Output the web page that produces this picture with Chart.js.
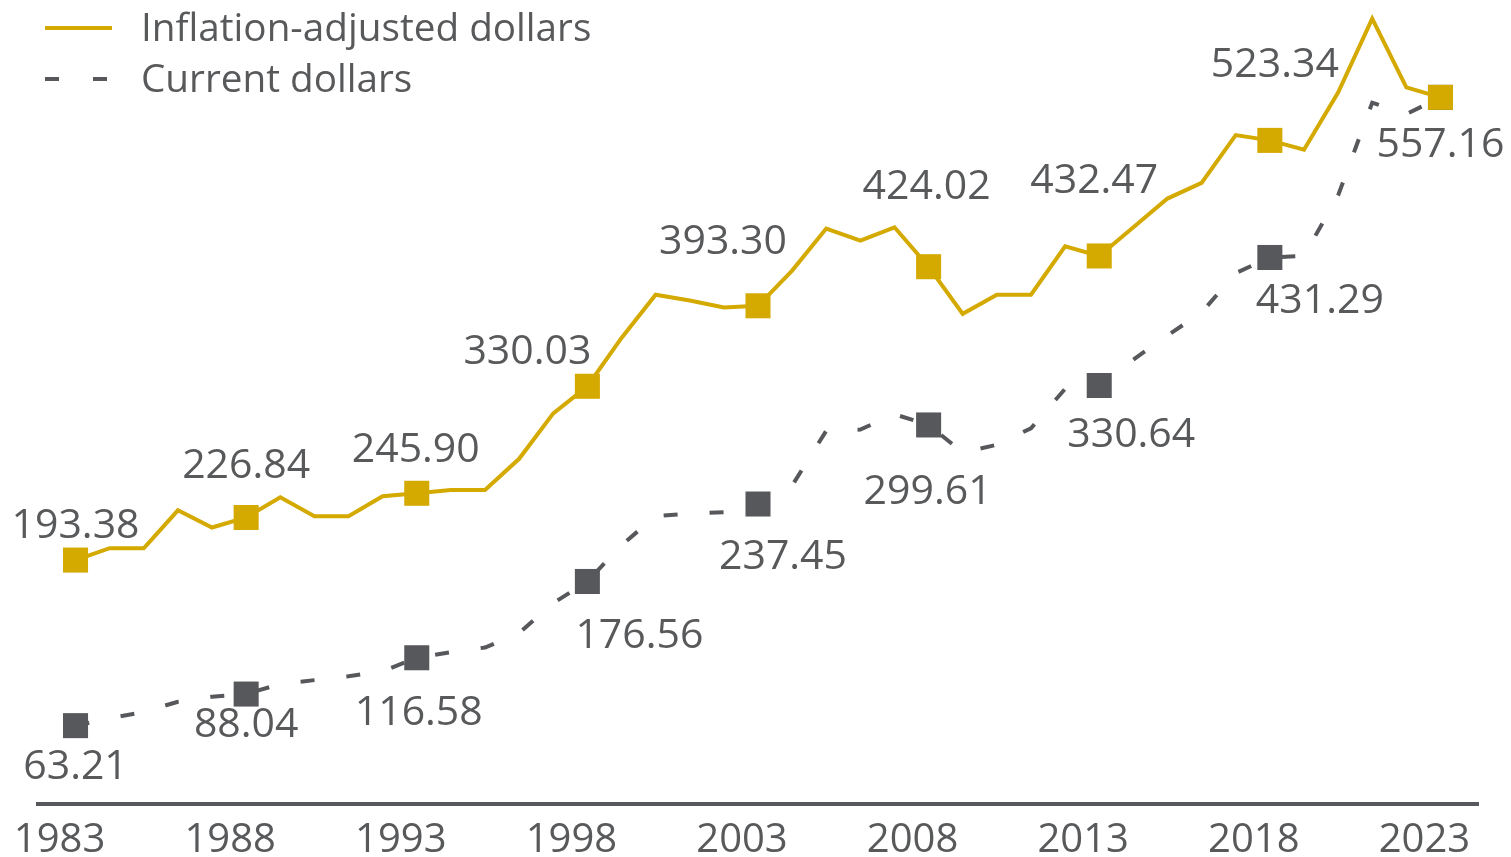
<!DOCTYPE html>
<html>
<head>
<meta charset="utf-8">
<script src="https://cdn.jsdelivr.net/npm/chart.js@4.4.1/dist/chart.umd.min.js"></script>
<style>
  html, body { margin: 0; padding: 0; background: #ffffff; }
  #wrap { width: 1511px; height: 857px; }
</style>
</head>
<body>
<div id="wrap"><canvas id="chart" width="1511" height="857"></canvas></div>
<script>
// ---- data ----
const years = [1983, 1984, 1985, 1986, 1987, 1988, 1989, 1990, 1991, 1992,
               1993, 1994, 1995, 1996, 1997, 1998, 1999, 2000, 2001, 2002,
               2003, 2004, 2005, 2006, 2007, 2008, 2009, 2010, 2011, 2012,
               2013, 2014, 2015, 2016, 2017, 2018, 2019, 2020, 2021, 2022, 2023];

const inflationAdjusted = [193.38, 202.7, 202.7, 232.5, 219, 226.84, 242.7, 227.8, 227.8, 243.5,
                           245.90, 248.5, 248.5, 273, 308.7, 330.03, 368, 402, 397.5, 392,
                           393.30, 421, 454, 444.6, 455, 424.02, 387, 402, 402, 440,
                           432.47, 455, 477.6, 490, 527.5, 523.34, 516, 561, 619, 565, 557.16];

const currentDollars = [63.21, 69, 74, 82, 86, 88.04, 96, 99, 102, 106,
                        116.58, 121, 124.6, 136, 159.5, 176.56, 205, 228, 230, 231,
                        237.45, 252, 295, 296, 308, 299.61, 278, 284, 297, 328,
                        330.64, 351, 370, 388, 419, 431.29, 432.5, 480, 553, 544, 557.16];

const tickYears = [1983, 1988, 1993, 1998, 2003, 2008, 2013, 2018, 2023];
const seriesNames = ['Inflation-adjusted dollars', 'Current dollars'];
const seriesValues = [inflationAdjusted, currentDollars];

// ---- styling ----
const GOLD = '#d4a900';
const GREY = '#57585b';
const TEXT = '#58595b';
const FONT = "'Open Sans', 'Noto Sans', sans-serif";
const LABEL_SIZE = 41;

// label offsets (px from marker centre) for the marked years, per dataset
const labelOffsets = [
  [[0, -37], [0, -54], [-1, -46], [-60, -37], [-35, -66], [-2, -82], [-5, -78], [5, -78], [0, 45]],
  [[0, 39], [0, 28], [2, 53], [52, 52], [25, 50], [-1, 64], [32, 47], [50, 41], null]
];

const markerRadius = years.map(y => tickYears.includes(y) ? 17.7 : 0);

// value labels next to the square markers
const valueLabels = {
  id: 'valueLabels',
  afterDatasetsDraw(chart) {
    const ctx = chart.ctx;
    ctx.save();
    ctx.font = `${LABEL_SIZE}px ${FONT}`;
    ctx.fillStyle = TEXT;
    ctx.textAlign = 'center';
    ctx.textBaseline = 'alphabetic';
    labelOffsets.forEach((offs, di) => {
      const meta = chart.getDatasetMeta(di);
      tickYears.forEach((yr, k) => {
        const off = offs[k];
        if (!off) return;
        const i = years.indexOf(yr);
        const pt = meta.data[i];
        ctx.fillText(seriesValues[di][i].toFixed(2), pt.x + off[0], pt.y + off[1] + 0.357 * LABEL_SIZE);
      });
    });
    ctx.restore();
  }
};

// legend stacked in the top-left corner, over the plot
const cornerLegend = {
  id: 'cornerLegend',
  afterDraw(chart) {
    const ctx = chart.ctx;
    const rows = [
      { y: 28, color: GOLD, dash: [] },
      { y: 79, color: GREY, dash: [14, 34] }
    ];
    ctx.save();
    ctx.font = `38.7px ${FONT}`;
    ctx.fillStyle = TEXT;
    ctx.textAlign = 'left';
    ctx.textBaseline = 'middle';
    rows.forEach((r, i) => {
      ctx.beginPath();
      ctx.strokeStyle = r.color;
      ctx.lineWidth = 4;
      ctx.setLineDash(r.dash);
      ctx.moveTo(45, r.y);
      ctx.lineTo(112, r.y);
      ctx.stroke();
      ctx.fillText(seriesNames[i], 141, r.y + 2);
    });
    ctx.restore();
  }
};

new Chart(document.getElementById('chart'), {
  type: 'line',
  data: {
    datasets: [
      {
        label: seriesNames[0],
        data: years.map((y, i) => ({ x: y, y: inflationAdjusted[i] })),
        borderColor: GOLD, borderWidth: 4, tension: 0, clip: false,
        pointStyle: 'rect', pointRadius: markerRadius, pointHoverRadius: markerRadius,
        pointBackgroundColor: GOLD, pointBorderWidth: 0
      },
      {
        label: seriesNames[1],
        data: years.map((y, i) => ({ x: y, y: currentDollars[i] })),
        borderColor: GREY, borderWidth: 4, borderDash: [14, 32], tension: 0, clip: false,
        pointStyle: 'rect', pointRadius: markerRadius, pointHoverRadius: markerRadius,
        pointBackgroundColor: GREY, pointBorderWidth: 0
      }
    ]
  },
  options: {
    responsive: false,
    animation: false,
    // top edge ends up at 17.7 because of the marker overflow
    layout: { padding: { left: 38, right: 33, top: 5, bottom: 0 } },
    plugins: { legend: { display: false }, tooltip: { enabled: false } },
    scales: {
      x: {
        type: 'linear', min: 1981.9, max: 2024.1,
        afterBuildTicks: axis => { axis.ticks = tickYears.map(v => ({ value: v })); },
        afterFit: axis => { axis.height = 53; },
        grid: { display: false, drawTicks: false },
        border: { display: true, color: GREY, width: 4 },
        ticks: {
          color: TEXT, font: { family: FONT, size: 40 }, padding: 13, labelOffset: -16,
          maxRotation: 0, autoSkip: false, callback: v => String(v)
        }
      },
      y: { display: false, min: 1.6, max: 619.8 }
    }
  },
  plugins: [valueLabels, cornerLegend]
});
</script>
</body>
</html>
